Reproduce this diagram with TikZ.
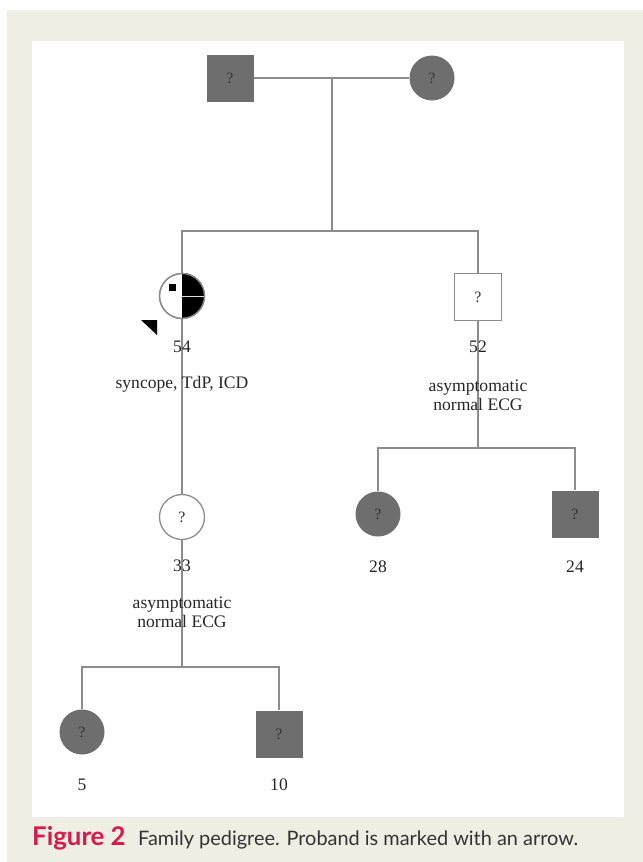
\documentclass[tikz,border=0pt]{standalone}
\usepackage{fontspec}
\setmainfont{Liberation Serif}
\newfontfamily\capfont{Lato}
\usepackage{xcolor}
\definecolor{pedfill}{HTML}{6E6E6E}
\definecolor{pedline}{HTML}{8C8C8C}
\definecolor{panel}{HTML}{EFEEE4}
\definecolor{figred}{HTML}{D7194B}
\definecolor{captext}{HTML}{333333}
\newcommand{\agefont}{\fontsize{15}{16}\selectfont}
\newcommand{\qfont}{\fontsize{13.5}{14}\selectfont}
\tikzset{
  link/.style={draw=pedline, line width=1.1pt},
  male/.style={rectangle, minimum size=1.41cm, inner sep=0, fill=pedfill,
               text=black!80, font=\qfont},
  female/.style={circle, minimum size=1.35cm, inner sep=0, fill=pedfill,
                 text=black!80, font=\qfont},
  unaff/.style={fill=white, draw=pedline, line width=1.1pt},
  age/.style={inner sep=0, text=black!85, font=\agefont},
  note/.style={inner sep=0, text=black!85, font=\agefont, align=center}
}

\begin{document}
\begin{tikzpicture}[x=0.03cm, y=-0.03cm]
    \useasboundingbox (0,0) rectangle (643,862);
    % --- page: beige frame with white panel ---
    \fill[white] (0,0) rectangle (643,862);
    \fill[panel] (7,10) rectangle (643,862);
    \fill[white] (32,41) rectangle (624,817);

    % --- generation I ---
    \node[male] (f1) at (230,78) {?};
    \node[female] (m1) at (432,78) {?};
    \coordinate (mar) at (332,78);
    \coordinate (sib1) at (332,231);

    % --- generation II: proband and brother ---
    \node[female, unaff] (pro) at (182,296) {};
    \node[male, unaff] (u52) at (478,297) {?};

    % --- generation III ---
    \node[female, unaff] (d33) at (182,517) {?};
    \node[female] (g28) at (378,514) {?};
    \node[male] (g24) at (575,514) {?};
    \coordinate (sib2) at (478,448);

    % --- generation IV ---
    \node[female] (g5) at (82,732) {?};
    \node[male] (g10) at (279,734) {?};
    \coordinate (sib3) at (182,667);

    % --- lines of descent ---
    \draw[link] (f1) -- (m1);
    \draw[link] (mar) -- (sib1);
    \draw[link] (pro.north) -- (pro.north |- sib1) -- (u52.north |- sib1) -- (u52.north);
    \draw[link] (pro.south) -- (d33.north);
    \draw[link] (u52.south) -- (sib2);
    \draw[link] (g28.north) -- (g28.north |- sib2) -- (g24.north |- sib2) -- (g24.north);
    \draw[link] (d33.south) -- (sib3);
    \draw[link] (g5.north) -- (g5.north |- sib3) -- (g10.north |- sib3) -- (g10.north);

    % --- proband symbol: right half black, ICD mark, arrow ---
    \fill[black] (pro.north) arc[start angle=90, end angle=-90, radius=0.675cm] -- cycle;
    \draw[white!75!gray, line width=0.8pt] (pro.center) -- (pro.east);
    \draw[link] (pro.center) circle[radius=0.675cm];
    \fill[black] (168.5,283.5) rectangle (175.5,290.5);
    \fill[black] (141,320) -- (157,320) -- (157,335) -- cycle;

    % --- ages and notes ---
    \node[age] (a54) at (182,347) {54};
    \node[note] (n54) at (182,384) {syncope, TdP, ICD};
    \node[age] (a52) at (478,347) {52};
    \node[note] (n52) at (478,395) {asymptomatic\\normal ECG};
    \node[age] (a33) at (182,566) {33};
    \node[note] (n33) at (182,612) {asymptomatic\\normal ECG};
    \foreach \x/\y/\n in {378/567/28, 575/567/24, 82/785/5, 279/785/10}
      \node[age] at (\x,\y) {\n};

    % --- caption ---
    \node[anchor=base west, inner sep=0, text=figred,
          font={\capfont\bfseries\fontsize{22}{24}\selectfont}] (capfig) at (32,845) {Figure 2};
    \node[anchor=base west, inner sep=0, text=captext,
          font={\capfont\fontsize{17}{20}\selectfont}] (captxt) at (138,845)
      {Family pedigree. Proband is marked with an arrow.};
\end{tikzpicture}
\end{document}
